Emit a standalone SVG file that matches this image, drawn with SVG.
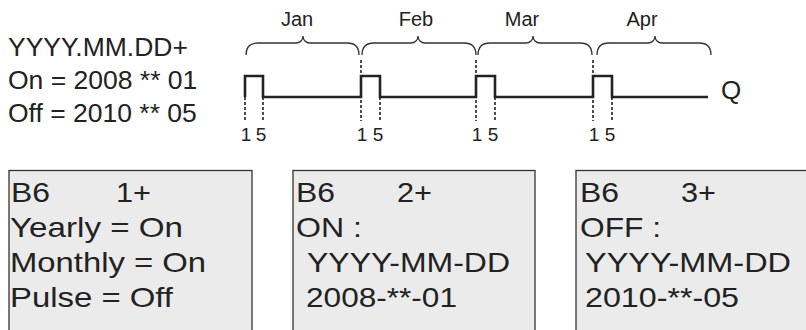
<svg xmlns="http://www.w3.org/2000/svg" width="806" height="330" viewBox="0 0 806 330">
<style>
text{font-family:"Liberation Sans",Arial,sans-serif;fill:#222}
.hdr{font-size:26.5px}
.mon{font-size:20px;text-anchor:middle}
.num{font-size:19px;text-anchor:middle}
.q{font-size:26px}
.bx{font-size:28px}
.box{fill:#ebebeb;stroke:#333;stroke-width:1.3}
.sig{fill:none;stroke:#222;stroke-width:2.6;stroke-linejoin:miter}
.dash{fill:none;stroke:#222;stroke-width:1.6;stroke-dasharray:3 2}
.brace{fill:none;stroke:#333;stroke-width:1.3}
</style>
<rect width="806" height="330" fill="#fff"/>
<g id="params">
<text class="hdr" x="8" y="56">YYYY.MM.DD+</text>
<text class="hdr" x="8" y="89">On = 2008 ** 01</text>
<text class="hdr" x="8" y="122">Off = 2010 ** 05</text>
</g>
<g id="months">
<path class="brace" d="M246 55 C246 47 250 43 258 43 H296 C300 43 303 40 303 36 C303 40 306 43 310 43 H347 C355 43 359 47 359 55"/>
<path class="brace" d="M362 55 C362 47 366 43 374 43 H411 C415 43 418 40 418 36 C418 40 421 43 425 43 H464 C472 43 476 47 476 55"/>
<path class="brace" d="M478 55 C478 47 482 43 490 43 H526 C530 43 533 40 533 36 C533 40 536 43 540 43 H580 C588 43 592 47 592 55"/>
<path class="brace" d="M597 55 C597 47 601 43 609 43 H648 C652 43 655 40 655 36 C655 40 658 43 662 43 H699 C707 43 711 47 711 55"/>
<text class="mon" x="297" y="26">Jan</text>
<text class="mon" x="416" y="26">Feb</text>
<text class="mon" x="522" y="26">Mar</text>
<text class="mon" x="642" y="26">Apr</text>
</g>
<g id="signal">
<path class="dash" d="M245 97 V121 M263 97 V121 M361 60 V121 M380 97 V121 M476 60 V121 M495 97 V121 M593 60 V121 M612 97 V121"/>
<path class="sig" d="M245 97 V76 H263 V97 H361 V76 H380 V97 H476 V76 H495 V97 H593 V76 H612 V97 H708"/>
<text class="q" x="721" y="99">Q</text>
<text class="num" x="246" y="141">1</text><text class="num" x="261" y="141">5</text>
<text class="num" x="362" y="141">1</text><text class="num" x="378" y="141">5</text>
<text class="num" x="477" y="141">1</text><text class="num" x="493" y="141">5</text>
<text class="num" x="594" y="141">1</text><text class="num" x="610" y="141">5</text>
</g>
<g id="box1">
<rect class="box" x="9" y="170.5" width="243" height="175"/>
<text class="bx" x="11" y="202" textLength="39" lengthAdjust="spacingAndGlyphs">B6</text>
<text class="bx" x="116" y="202" textLength="35" lengthAdjust="spacingAndGlyphs">1+</text>
<text class="bx" x="10" y="237" textLength="173" lengthAdjust="spacingAndGlyphs">Yearly = On</text>
<text class="bx" x="10" y="272" textLength="196" lengthAdjust="spacingAndGlyphs">Monthly = On</text>
<text class="bx" x="10" y="307" textLength="163" lengthAdjust="spacingAndGlyphs">Pulse = Off</text>
</g>
<g id="box2">
<rect class="box" x="293" y="170.5" width="242" height="175"/>
<text class="bx" x="296" y="202" textLength="39" lengthAdjust="spacingAndGlyphs">B6</text>
<text class="bx" x="397" y="202" textLength="35" lengthAdjust="spacingAndGlyphs">2+</text>
<text class="bx" x="296" y="237" textLength="66" lengthAdjust="spacingAndGlyphs">ON :</text>
<text class="bx" x="307" y="272" textLength="203" lengthAdjust="spacingAndGlyphs">YYYY-MM-DD</text>
<text class="bx" x="306" y="307" textLength="151" lengthAdjust="spacingAndGlyphs">2008-**-01</text>
</g>
<g id="box3">
<rect class="box" x="576" y="170.5" width="245" height="175"/>
<text class="bx" x="580" y="202" textLength="39" lengthAdjust="spacingAndGlyphs">B6</text>
<text class="bx" x="681" y="202" textLength="35" lengthAdjust="spacingAndGlyphs">3+</text>
<text class="bx" x="580" y="237" textLength="81" lengthAdjust="spacingAndGlyphs">OFF :</text>
<text class="bx" x="585" y="272" textLength="206" lengthAdjust="spacingAndGlyphs">YYYY-MM-DD</text>
<text class="bx" x="585" y="307" textLength="154" lengthAdjust="spacingAndGlyphs">2010-**-05</text>
</g>
</svg>
